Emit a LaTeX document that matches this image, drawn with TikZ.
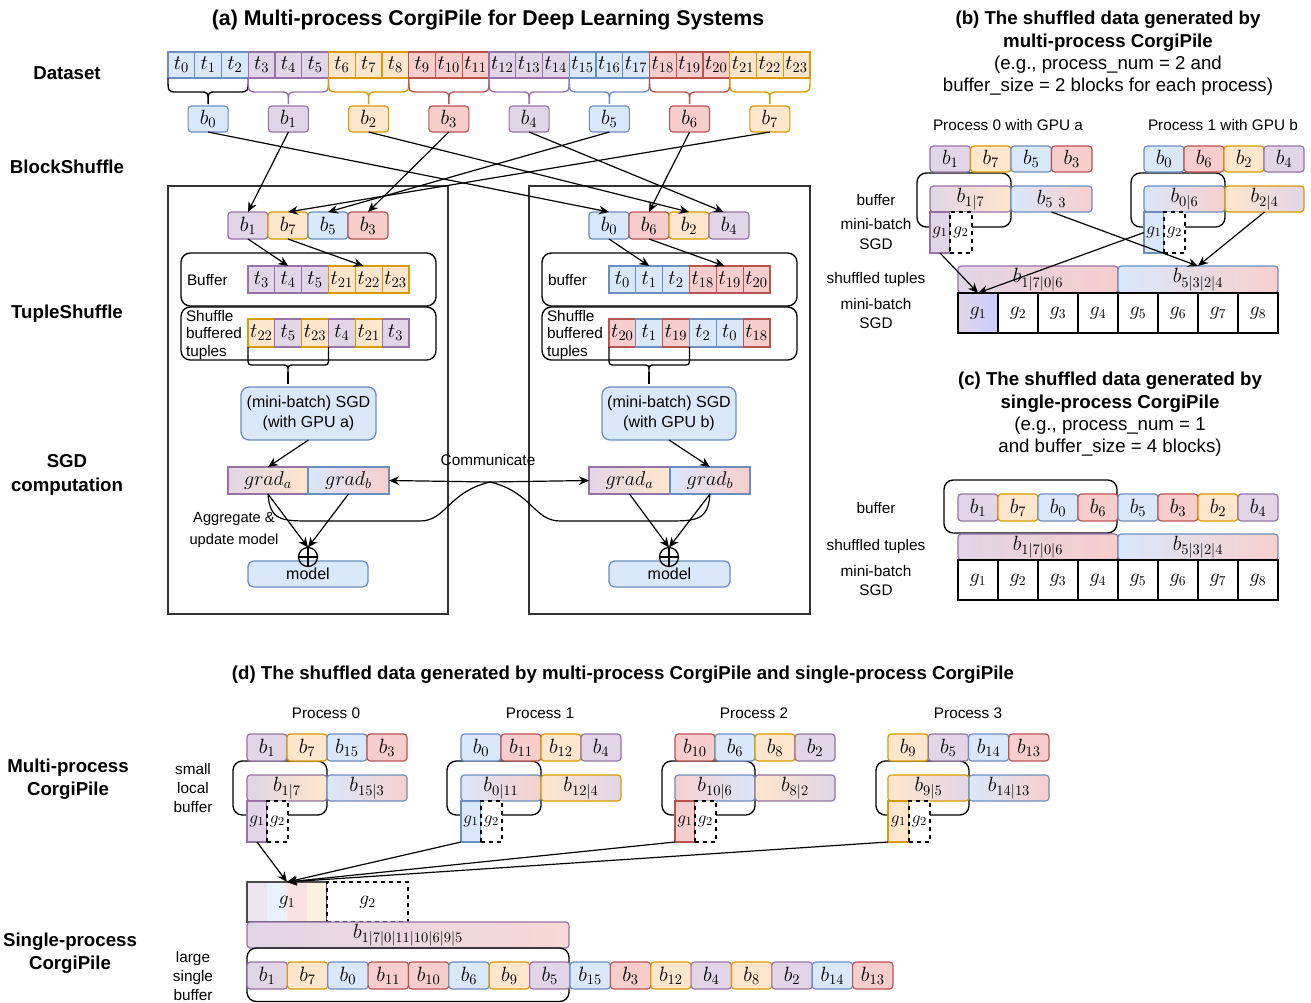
\documentclass[tikz,border=0pt]{standalone}
\usepackage[no-math]{fontspec}
\setmainfont{Liberation Sans}
\DeclareFontShape{OML}{cmm}{m}{it}{<-7.5>cmmi7<7.5-9.5>cmmi9<9.5-11>cmmi10<11->cmmi12}{}
\DeclareFontShape{OT1}{cmr}{m}{n}{<-7.5>cmr7<7.5-9.5>cmr9<9.5-11>cmr10<11->cmr12}{}
\usetikzlibrary{arrows.meta}
\definecolor{fB}{HTML}{DAE8FC}\definecolor{dB}{HTML}{6C8EBF}
\definecolor{fP}{HTML}{E1D5E7}\definecolor{dP}{HTML}{9673A6}
\definecolor{fO}{HTML}{FFE6CC}\definecolor{dO}{HTML}{D79B00}
\definecolor{fR}{HTML}{F8CECC}\definecolor{dR}{HTML}{B85450}
\definecolor{fL}{HTML}{CCCCFF}
\definecolor{pan}{HTML}{333333}
\newcommand\bx[7]{\node[#6,minimum width={((#4)-(#2))*0.75pt},minimum height={((#5)-(#3))*0.75pt}] (#1) at ({((#2)+(#4))/2},{((#3)+(#5))/2}) {#7};}
\tikzset{
  every node/.style={inner sep=0pt,outer sep=0pt},
  cblue/.style={fill=fB,draw=dB},
  cpurple/.style={fill=fP,draw=dP},
  corange/.style={fill=fO,draw=dO},
  cred/.style={fill=fR,draw=dR},
  gPO/.style={left color=fP,right color=fO,draw=dP},
  gBR/.style={left color=fB,right color=fR,draw=dB},
  gOP/.style={left color=fO,right color=fP,draw=dO},
  gOPp/.style={left color=fO,right color=fP,draw=dP},
  gRB/.style={left color=fR,right color=fB,draw=dB},
  gPR/.style={left color=fP,right color=fR,draw=dP},
  tcell/.style={line width=0.9pt,font=\fontsize{15.5}{15.5}\selectfont},
  bcell/.style={line width=0.9pt,rounded corners=2.5pt,font=\fontsize{15.5}{15.5}\selectfont},
  gcell/.style={line width=0.9pt,draw=black,fill=white,font=\fontsize{14.5}{14.5}\selectfont},
  gsmall/.style={line width=0.9pt,font=\fontsize{13}{13}\selectfont},
  gdash/.style={gsmall,draw=black,dashed,fill=white},
  bufbox/.style={draw=black,line width=1pt,rounded corners=7pt},
  panel/.style={draw=pan,line width=1.2pt},
  sgdbox/.style={fill=fB,draw=dB,line width=1pt,rounded corners=6pt,font=\fontsize{12}{15}\selectfont,align=center},
  lab/.style={font=\fontsize{14}{17.5}\selectfont\bfseries,align=center},
  ttl/.style={font=\fontsize{14}{16.8}\selectfont\bfseries,align=center},
  txt/.style={font=\fontsize{11.5}{14.6}\selectfont,align=center},
  arr/.style={-{Stealth[length=7.5pt,width=6.5pt]},line width=0.9pt},
  brc/.style={line width=1pt},
  gradc/.style={line width=1pt,font=\fontsize{15}{15}\selectfont},
}
\begin{document}
\begin{tikzpicture}[x=0.75pt,y=-0.75pt]
\useasboundingbox (0,0) rectangle (1311,1003);
\fill[white] (0,0) rectangle (1311,1003);

% ---------------- (a) ----------------
\node[ttl,font=\fontsize{16}{18}\selectfont\bfseries] (ta) at (488,20) {(a) Multi-process CorgiPile for Deep Learning Systems};
\node[lab] (lDS) at (67,73) {Dataset};
\node[lab] (lBS) at (67,167) {BlockShuffle};
\node[lab] (lTS) at (67,314) {TupleShuffle};
\node[lab] (lSGD) at (67,475) {SGD\\computation};
\node[lab] (lMP) at (68,779) {Multi-process\\CorgiPile};
\node[lab] (lSP) at (70,953) {Single-process\\CorgiPile};

\foreach \kk/\cc in {0/cblue,1/cblue,2/cblue,3/cpurple,4/cpurple,5/cpurple,6/corange,7/corange,8/corange,9/cred,10/cred,11/cred,12/cpurple,13/cpurple,14/cpurple,15/cblue,16/cblue,17/cblue,18/cred,19/cred,20/cred,21/corange,22/corange,23/corange}
  {\bx{t\kk}{168+26.75*\kk}{52}{168+26.75*(\kk+1)}{78}{tcell,\cc}{$t_{\kk}$}}

\foreach \g/\cc/\dd in {0/cblue/black,1/cpurple/dP,2/corange/dO,3/cred/dR,4/cpurple/dP,5/cblue/dB,6/cred/dR,7/corange/dO} {
  \pgfmathsetmacro\xa{168+80.25*\g}
  \pgfmathsetmacro\xb{\xa+80.25}
  \pgfmathsetmacro\xm{\xa+40.125}
  \draw[brc,\dd] (\xa,78) .. controls (\xa,92) .. (\xa+10,92) -- (\xm-8,92) .. controls (\xm,92) .. (\xm,104) .. controls (\xm,92) .. (\xm+8,92) -- (\xb-10,92) .. controls (\xb,92) .. (\xb,78);
  \bx{B\g}{\xm-20}{106}{\xm+20}{132}{bcell,\cc}{$b_{\g}$}
}

\bx{PL}{168}{186}{448}{614}{panel}{}
\bx{PR}{529}{186}{810}{614}{panel}{}

\foreach \kk/\nn/\cc in {0/1/cpurple,1/7/corange,2/5/cblue,3/3/cred}
  {\bx{L\nn}{228+40*\kk}{212}{268+40*\kk}{239}{bcell,\cc}{$b_{\nn}$}}
\foreach \kk/\nn/\cc in {0/0/cblue,1/6/cred,2/2/corange,3/4/cpurple}
  {\bx{R\nn}{589+40*\kk}{212}{629+40*\kk}{239}{bcell,\cc}{$b_{\nn}$}}

\draw[arr] (B1.south) -- (L1.north);
\draw[arr] (B3.south) -- (L3.north);
\draw[arr] (B5.south) -- (L5.north);
\draw[arr] (B7.south) -- (L7.north);
\draw[arr] (B0.south) -- (R0.north);
\draw[arr] (B6.south) -- (R6.north);
\draw[arr] (B2.south) -- (R2.north);
\draw[arr] (B4.south) -- ([xshift=-4pt]R4.north);

% left panel
\bx{BufL}{181}{253}{436}{306}{bufbox}{}
\node[txt,anchor=west] (bufLt) at (187,280) {Buffer};
\foreach \kk/\nn/\cc in {0/3/cpurple,1/4/cpurple,2/5/cpurple,3/21/corange,4/22/corange,5/23/corange}
  {\bx{LB\nn}{248+26.83*\kk}{266}{248+26.83*(\kk+1)}{293}{tcell,\cc}{$t_{\nn}$}}
\bx{ShL}{181}{307}{436}{360}{bufbox}{}
\node[txt,anchor=west,align=left,font=\fontsize{11.5}{13}\selectfont] (shLt) at (186,335) {Shuffle\\buffered\\tuples};
\foreach \kk/\nn/\cc in {0/22/corange,1/5/cpurple,2/23/corange,3/4/cpurple,4/21/corange,5/3/cpurple}
  {\bx{LS\nn}{248+26.83*\kk}{319}{248+26.83*(\kk+1)}{347}{tcell,\cc}{$t_{\nn}$}}
\draw[arr] (L1.south) -- (LB4.north);
\draw[arr] (L7.south) -- ([xshift=-4pt]LB22.north);
\draw[brc] (LS22.south west) -- (248,358) .. controls (248,365) .. (255,365) -- (281,365) .. controls (288,365) .. (288,372) .. controls (288,365) .. (295,365) -- (321,365) .. controls (328.5,365) .. (328.5,358) -- (LS23.south east);
\bx{SGDL}{241}{387}{376}{440}{sgdbox}{(mini-batch) SGD\\(with GPU a)}
\draw[brc] (288,372) -- (288,384);
\bx{GaL}{228}{467}{308}{494}{gPO,gradc}{$grad_a$}
\bx{GbL}{308}{467}{389}{494}{gBR,gradc}{$grad_b$}
\draw[arr] (SGDL.south) -- (GaL.north);
\bx{ML}{248}{561}{368}{587}{sgdbox,rounded corners=4pt}{model}
\node[circle,draw,line width=1pt,minimum size=19*0.75pt] (PlL) at (308,557) {};
\draw[line width=1pt] (PlL.north) -- (PlL.south) (PlL.west) -- (PlL.east);
\draw[arr] (GaL.south) -- (PlL.north);
\draw[arr] (GbL.south) -- (PlL.north);
\node[txt,font=\fontsize{11}{16.5}\selectfont] (agg) at (234,530) {Aggregate \&\\update model};

% right panel
\bx{BufR}{542}{253}{797}{306}{bufbox}{}
\node[txt,anchor=west] (bufRt) at (548,280) {buffer};
\foreach \kk/\nn/\cc in {0/0/cblue,1/1/cblue,2/2/cblue,3/18/cred,4/19/cred,5/20/cred}
  {\bx{RB\nn}{609+26.83*\kk}{266}{609+26.83*(\kk+1)}{293}{tcell,\cc}{$t_{\nn}$}}
\bx{ShR}{542}{307}{797}{360}{bufbox}{}
\node[txt,anchor=west,align=left,font=\fontsize{11.5}{13}\selectfont] (shRt) at (547,335) {Shuffle\\buffered\\tuples};
\foreach \kk/\nn/\cc in {0/20/cred,1/1/cblue,2/19/cred,3/2/cblue,4/0/cblue,5/18/cred}
  {\bx{RS\nn}{609+26.83*\kk}{319}{609+26.83*(\kk+1)}{347}{tcell,\cc}{$t_{\nn}$}}
\draw[arr] (R0.south) -- (RB1.north);
\draw[arr] (R6.south) -- ([xshift=-4pt]RB19.north);
\draw[brc] (RS20.south west) -- (609,358) .. controls (609,365) .. (616,365) -- (642,365) .. controls (649,365) .. (649,372) .. controls (649,365) .. (656,365) -- (682,365) .. controls (689.5,365) .. (689.5,358) -- (RS19.south east);
\bx{SGDR}{602}{387}{736}{440}{sgdbox}{(mini-batch) SGD\\(with GPU b)}
\draw[brc] (649,372) -- (649,384);
\bx{GaR}{589}{467}{670}{494}{gPO,gradc}{$grad_a$}
\bx{GbR}{670}{467}{750}{494}{gBR,gradc}{$grad_b$}
\draw[arr] (SGDR.south) -- (GbR.north);
\bx{MR}{609}{561}{730}{587}{sgdbox,rounded corners=4pt}{model}
\node[circle,draw,line width=1pt,minimum size=19*0.75pt] (PlR) at (669,557) {};
\draw[line width=1pt] (PlR.north) -- (PlR.south) (PlR.west) -- (PlR.east);
\draw[arr] (GaR.south) -- (PlR.north);
\draw[arr] (GbR.south) -- (PlR.north);

% communicate
\node[txt] (comm) at (488,460) {Communicate};
\draw[arr] (GaL.south) .. controls (270,521) and (282,521) .. (312,521) -- (420,521) .. controls (446,521) and (448,492) .. (490,482) -- (GaR.west);
\draw[arr] (GbR.south) .. controls (708,521) and (696,521) .. (666,521) -- (560,521) .. controls (534,521) and (532,492) .. (490,482) -- (GbL.east);

% ---------------- (b) ----------------
\node[ttl] (tb) at (1108,53.5) {(b) The shuffled data generated by\\multi-process CorgiPile\\{\mdseries (e.g., process\_num = 2 and}\\{\mdseries buffer\_size = 2 blocks for each process)}};
\node[txt] (pb0) at (1008,125) {Process 0 with GPU a};
\node[txt] (pb1) at (1223,125) {Process 1 with GPU b};
\bx{bufA}{917}{173}{1011}{227}{bufbox}{}
\bx{bufB}{1131}{173}{1225}{227}{bufbox}{}
\foreach \kk/\nn/\cc in {0/1/cpurple,1/7/corange,2/5/cblue,3/3/cred}
  {\bx{bA\nn}{930+40.5*\kk}{146}{970.5+40.5*\kk}{172}{bcell,\cc}{$b_{\nn}$}}
\foreach \kk/\nn/\cc in {0/0/cblue,1/6/cred,2/2/corange,3/4/cpurple}
  {\bx{bB\nn}{1144+40*\kk}{146}{1184+40*\kk}{172}{bcell,\cc}{$b_{\nn}$}}
\bx{bA17}{930}{186}{1011}{212}{bcell,gPO}{$b_{1|7}$}
\bx{bA53}{1011}{186}{1092}{212}{bcell,gBR}{$b_{5\ 3}$}
\bx{gA1}{930}{212}{950}{253}{gsmall,cpurple}{$g_1$}
\bx{gA2}{950}{212}{972}{253}{gdash}{$g_2$}
\bx{bB06}{1144}{186}{1225}{212}{bcell,gBR}{$b_{0|6}$}
\bx{bB24}{1225}{186}{1304}{212}{bcell,gOP}{$b_{2|4}$}
\bx{gB1}{1144}{212}{1164}{253}{gsmall,cblue}{$g_1$}
\bx{gB2}{1164}{212}{1185}{253}{gdash}{$g_2$}
\node[txt] (bl1) at (876,200) {buffer};
\node[txt] (bl2) at (876,234) {mini-batch\\SGD};
\node[txt] (bl3) at (876,280) {shuffled tuples};
\node[txt] (bl4) at (876,313.5) {mini-batch\\SGD};
\bx{bS1}{958}{266}{1118}{293}{bcell,gPR}{$b_{1|7|0|6}$}
\bx{bS2}{1118}{266}{1278}{293}{bcell,gBR}{$b_{5|3|2|4}$}
\foreach \kk in {1,...,8}
  {\bx{bG\kk}{958+40*(\kk-1)}{293}{958+40*\kk}{333}{gcell}{$g_{\kk}$}}
\bx{bG1x}{958}{293}{998}{333}{gcell,left color=fP,right color=fL}{$g_{1}$}
\draw[arr] (gA1.south) -- (bG1x.north);
\draw[arr] (gB1.west) -- (bG1x.north);
\draw[arr] (bA53.south) -- (bS2.north);
\draw[arr] (bB24.south) -- (bS2.north);

% ---------------- (c) ----------------
\node[ttl] (tcc) at (1110,414.5) {(c) The shuffled data generated by\\single-process CorgiPile\\{\mdseries (e.g., process\_num = 1}\\{\mdseries and buffer\_size = 4 blocks)}};
\bx{bufC}{944}{480}{1117}{533}{bufbox}{}
\foreach \kk/\nn/\cc in {0/1/cpurple,1/7/corange,2/0/cblue,3/6/cred,4/5/cblue,5/3/cred,6/2/corange,7/4/cpurple}
  {\bx{cR\nn}{958+40*\kk}{494}{998+40*\kk}{521}{bcell,\cc}{$b_{\nn}$}}
\bx{cS1}{958}{534}{1118}{560}{bcell,gPR}{$b_{1|7|0|6}$}
\bx{cS2}{1118}{534}{1278}{560}{bcell,gBR}{$b_{5|3|2|4}$}
\foreach \kk in {1,...,8}
  {\bx{cG\kk}{958+40*(\kk-1)}{560}{958+40*\kk}{600}{gcell}{$g_{\kk}$}}
\node[txt] (cl1) at (876,508) {buffer};
\node[txt] (cl2) at (876,547) {shuffled tuples};
\node[txt] (cl3) at (876,580.5) {mini-batch\\SGD};

% ---------------- (d) ----------------
\node[ttl] (td) at (623,675) {(d) The shuffled data generated by multi-process CorgiPile and single-process CorgiPile};
\node[txt] (dp0) at (326,713) {Process 0};
\node[txt] (dp1) at (540,713) {Process 1};
\node[txt] (dp2) at (754,713) {Process 2};
\node[txt] (dp3) at (968,713) {Process 3};
\node[txt] (dsl) at (193,788) {small\\local\\buffer};
\node[txt] (dlg) at (193,976) {large\\single\\buffer};

% process 0
\bx{dbufA}{233}{761}{327}{815}{bufbox}{}
\foreach \kk/\nn/\cc in {0/1/cpurple,1/7/corange,2/15/cblue,3/3/cred}
  {\bx{dA\nn}{247+40*\kk}{734}{287+40*\kk}{761}{bcell,\cc}{$b_{\nn}$}}
\bx{dmA1}{247}{775}{327}{801}{bcell,gPO}{$b_{1|7}$}
\bx{dmA2}{327}{775}{407}{801}{bcell,gBR}{$b_{15|3}$}
\bx{dgA1}{247}{801}{267}{842}{gsmall,cpurple}{$g_1$}
\bx{dgA2}{267}{801}{288}{842}{gdash}{$g_2$}
% process 1
\bx{dbufB}{447}{761}{541}{815}{bufbox}{}
\foreach \kk/\nn/\cc in {0/0/cblue,1/11/cred,2/12/corange,3/4/cpurple}
  {\bx{dB\nn}{461+40*\kk}{734}{501+40*\kk}{761}{bcell,\cc}{$b_{\nn}$}}
\bx{dmB1}{461}{775}{541}{801}{bcell,gBR}{$b_{0|11}$}
\bx{dmB2}{541}{775}{621}{801}{bcell,gOP}{$b_{12|4}$}
\bx{dgB1}{461}{801}{481}{842}{gsmall,cblue}{$g_1$}
\bx{dgB2}{481}{801}{502}{842}{gdash}{$g_2$}
% process 2
\bx{dbufC}{662}{761}{755}{815}{bufbox}{}
\foreach \kk/\nn/\cc in {0/10/cred,1/6/cblue,2/8/corange,3/2/cpurple}
  {\bx{dC\nn}{675+40*\kk}{734}{715+40*\kk}{761}{bcell,\cc}{$b_{\nn}$}}
\bx{dmC1}{675}{775}{755}{801}{bcell,gRB}{$b_{10|6}$}
\bx{dmC2}{755}{775}{835}{801}{bcell,gOPp}{$b_{8|2}$}
\bx{dgC1}{675}{801}{695}{842}{gsmall,cred}{$g_1$}
\bx{dgC2}{695}{801}{716}{842}{gdash}{$g_2$}
% process 3
\bx{dbufD}{876}{761}{969}{815}{bufbox}{}
\foreach \kk/\nn/\cc in {0/9/corange,1/5/cpurple,2/14/cblue,3/13/cred}
  {\bx{dD\nn}{888+40.25*\kk}{734}{928.25+40.25*\kk}{761}{bcell,\cc}{$b_{\nn}$}}
\bx{dmD1}{888}{775}{969}{801}{bcell,gOP}{$b_{9|5}$}
\bx{dmD2}{969}{775}{1049}{801}{bcell,gBR}{$b_{14|13}$}
\bx{dgD1}{888}{801}{909}{842}{gsmall,corange}{$g_1$}
\bx{dgD2}{909}{801}{930}{842}{gdash}{$g_2$}

% single process
\fill[fP!60] (247,882) rectangle (267,922);
\fill[fB!60] (267,882) rectangle (287,922);
\fill[fR!60] (287,882) rectangle (307,922);
\fill[fO!60] (307,882) rectangle (327,922);
\bx{sg1}{247}{882}{327}{922}{draw=black!70,line width=0.9pt,font=\fontsize{14.5}{14.5}\selectfont}{$g_1$}
\bx{sg2}{327}{882}{408}{922}{gdash,font=\fontsize{14.5}{14.5}\selectfont}{$g_2$}
\bx{sM}{247}{922}{569}{948}{bcell,left color=fP,right color=fR!80,draw=dP}{$b_{1|7|0|11|10|6|9|5}$}
\bx{sbuf}{247}{948}{569}{1001.5}{bufbox}{}
\foreach \kk/\nn/\cc in {0/1/cpurple,1/7/corange,2/0/cblue,3/11/cred,4/10/cred,5/6/cblue,6/9/corange,7/5/cpurple,8/15/cblue,9/3/cred,10/12/corange,11/4/cpurple,12/8/corange,13/2/cpurple,14/14/cblue,15/13/cred}
  {\bx{sb\nn}{247+40.375*\kk}{962}{287.375+40.375*\kk}{989}{bcell,\cc}{$b_{\nn}$}}

\draw[arr] (dgA1.south) -- (sg1.north);
\draw[arr] (dgB1.south west) -- (sg1.north);
\draw[arr] (dgC1.south west) -- (sg1.north);
\draw[arr] (dgD1.south west) -- (sg1.north);
\end{tikzpicture}
\end{document}
